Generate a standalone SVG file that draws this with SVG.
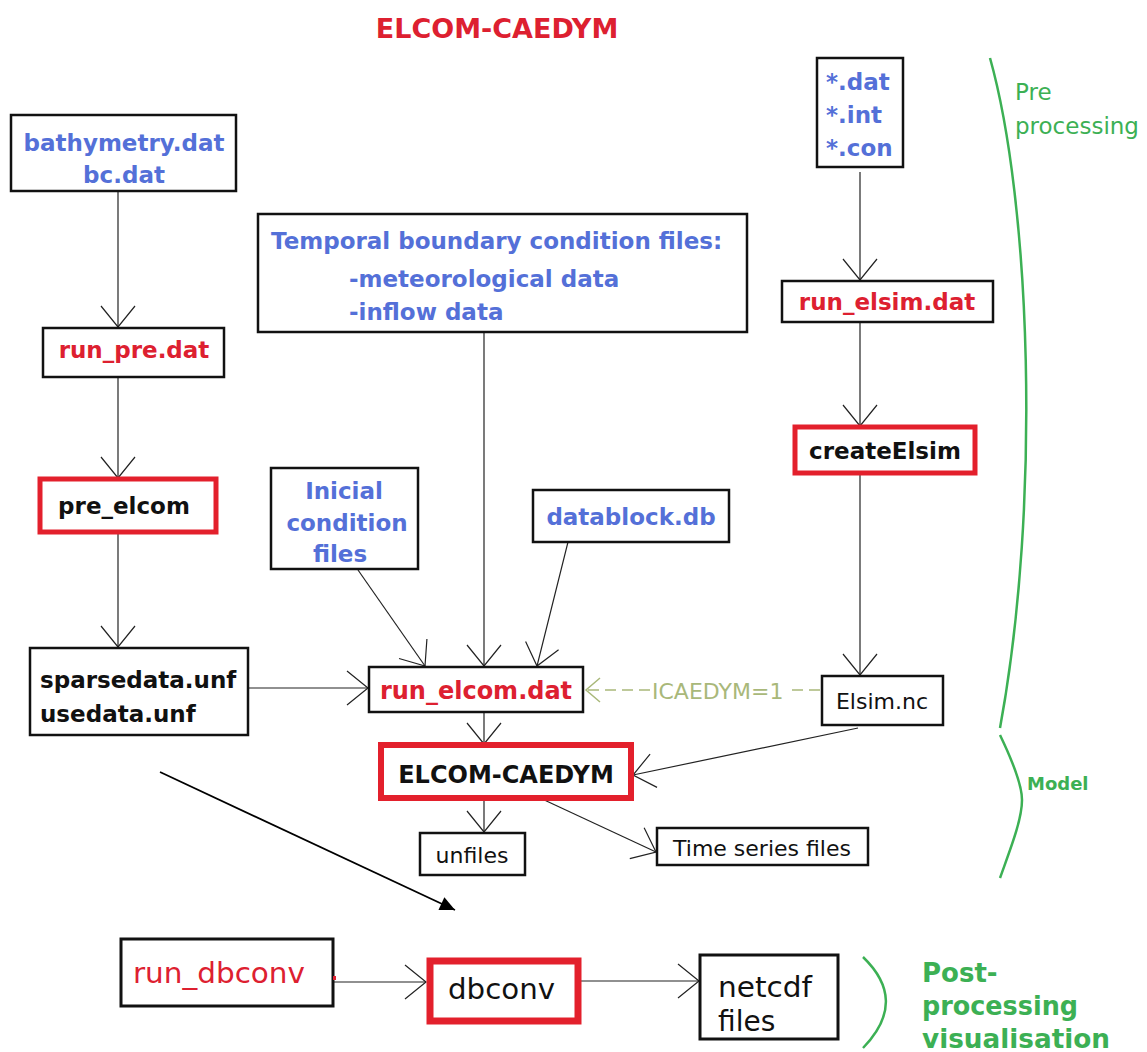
<svg xmlns="http://www.w3.org/2000/svg" width="1147" height="1052" viewBox="0 0 1147 1052">
<style>
.box{fill:#fff;stroke:#111;stroke-width:2.5}
.rbox{fill:#fff;stroke:#e3202c;stroke-width:6}
.b{font-family:"DejaVu Sans",Verdana,sans-serif;font-weight:bold;font-size:23px}
.n{font-family:"DejaVu Sans",Verdana,sans-serif;font-size:22px;fill:#111}
.nr{font-family:"DejaVu Sans",Verdana,sans-serif;font-size:28px}
.blue{fill:#5470d8}
.red{fill:#dd2030}
.blk{fill:#111}
.green{fill:#3cb054}
.mid{text-anchor:middle}
.c{stroke:#222;stroke-width:1.2;fill:none}
.brace{stroke:#3cb054;stroke-width:2.5;fill:none}
</style>
<defs>
<marker id="open" markerUnits="userSpaceOnUse" viewBox="-24 -20 26 40" markerWidth="26" markerHeight="40" refX="0" refY="0" orient="auto">
<path d="M-21,-17 L0,0 L-21,17" fill="none" stroke="#222" stroke-width="1.2"/>
</marker>
<marker id="openG" markerUnits="userSpaceOnUse" viewBox="-24 -20 26 40" markerWidth="26" markerHeight="40" refX="0" refY="0" orient="auto">
<path d="M-14,-12 L0,0 L-14,12" fill="none" stroke="#a9b87a" stroke-width="1.5"/>
</marker>
<marker id="fill" markerUnits="userSpaceOnUse" viewBox="-16 -9 18 18" markerWidth="18" markerHeight="18" refX="0" refY="0" orient="auto">
<path d="M-15,-7 L0,0 L-15,7 Z" fill="#000"/>
</marker>
</defs>

<text x="497" y="38" class="b red mid" style="font-size:27px">ELCOM-CAEDYM</text>

<g id="connectors">
<path class="c" d="M118,191 V327" marker-end="url(#open)"/>
<path class="c" d="M118,377 V478" marker-end="url(#open)"/>
<path class="c" d="M118,532 V647" marker-end="url(#open)"/>
<path class="c" d="M248,688 H368" marker-end="url(#open)"/>
<path class="c" d="M484,332 V666" marker-end="url(#open)"/>
<path class="c" d="M358,570 L425,666" marker-end="url(#open)"/>
<path class="c" d="M568,542 L537,666" marker-end="url(#open)"/>
<path class="c" d="M860,172 V280" marker-end="url(#open)"/>
<path class="c" d="M860,322 V426" marker-end="url(#open)"/>
<path class="c" d="M860,473 V675" marker-end="url(#open)"/>
<path d="M820,690 H586" fill="none" stroke="#a9b87a" stroke-width="1.5" stroke-dasharray="11,6" marker-end="url(#openG)"/>
<rect x="650" y="676" width="136" height="28" fill="#fff"/>
<text x="652" y="699" style="font-family:'DejaVu Sans',sans-serif;font-size:22px;fill:#a9b87a">ICAEDYM=1</text>
<path class="c" d="M858,728 L633,775" marker-end="url(#open)"/>
<path class="c" d="M484,712 V744" marker-end="url(#open)"/>
<path class="c" d="M484,798 V832" marker-end="url(#open)"/>
<path class="c" d="M540,798 L656,852" marker-end="url(#open)"/>
<path d="M160,772 L455,910" stroke="#000" stroke-width="1.8" fill="none" marker-end="url(#fill)"/>
<path class="c" d="M333,982 H426" stroke-width="2" marker-end="url(#open)"/>
<path class="c" d="M580,981 H699" stroke-width="2" marker-end="url(#open)"/>
</g>

<g id="bathymetry">
<rect class="box" x="11" y="115" width="225" height="76"/>
<text class="b blue mid" x="124" y="151">bathymetry.dat</text>
<text class="b blue mid" x="124" y="183">bc.dat</text>
</g>
<g id="star-files">
<rect class="box" x="817" y="58" width="86" height="109"/>
<text class="b blue" x="826" y="90">*.dat</text>
<text class="b blue" x="826" y="123">*.int</text>
<text class="b blue" x="826" y="156">*.con</text>
</g>
<g id="temporal">
<rect class="box" x="258" y="214" width="489" height="118"/>
<text class="b blue" x="271" y="249">Temporal boundary condition files:</text>
<text class="b blue" x="349" y="287">-meteorological data</text>
<text class="b blue" x="349" y="320">-inflow data</text>
</g>
<g id="run_elsim">
<rect class="box" x="782" y="281" width="211" height="41"/>
<text class="b red mid" x="887" y="310">run_elsim.dat</text>
</g>
<g id="createElsim">
<rect class="rbox" x="795" y="427" width="180" height="46" style="stroke-width:5"/>
<text class="b blk mid" x="885" y="459">createElsim</text>
</g>
<g id="run_pre">
<rect class="box" x="43" y="328" width="181" height="49"/>
<text class="b red mid" x="134" y="358">run_pre.dat</text>
</g>
<g id="pre_elcom">
<rect class="rbox" x="40" y="479" width="176" height="53" style="stroke-width:5"/>
<text class="b blk mid" x="124" y="514">pre_elcom</text>
</g>
<g id="inicial">
<rect class="box" x="271" y="468" width="147" height="101"/>
<text class="b blue mid" x="344" y="499">Inicial</text>
<text class="b blue mid" x="347" y="531">condition</text>
<text class="b blue mid" x="340" y="562">files</text>
</g>
<g id="datablock">
<rect class="box" x="533" y="490" width="196" height="52"/>
<text class="b blue mid" x="631" y="525">datablock.db</text>
</g>
<g id="sparsedata">
<rect class="box" x="30" y="648" width="218" height="87"/>
<text class="b blk" x="40" y="688">sparsedata.unf</text>
<text class="b blk" x="40" y="722">usedata.unf</text>
</g>
<g id="run_elcom">
<rect class="box" x="369" y="667" width="214" height="45"/>
<text class="b red mid" x="476" y="699" style="font-size:24px">run_elcom.dat</text>
</g>
<g id="elsim_nc">
<rect class="box" x="822" y="676" width="121" height="49"/>
<text class="n mid" x="882" y="709">Elsim.nc</text>
</g>
<g id="elcom_caedym">
<rect class="rbox" x="381" y="745" width="250" height="53"/>
<text class="b blk mid" x="506" y="783" style="font-size:24px">ELCOM-CAEDYM</text>
</g>
<g id="unfiles">
<rect class="box" x="420" y="833" width="105" height="42"/>
<text class="n mid" x="472" y="863">unfiles</text>
</g>
<g id="timeseries">
<rect class="box" x="657" y="828" width="211" height="37"/>
<text class="n mid" x="762" y="856">Time series files</text>
</g>
<g id="run_dbconv">
<rect class="box" x="121" y="939" width="212" height="67" style="stroke-width:3"/>
<rect x="333" y="976" width="3" height="4" fill="#dd2030"/>
<text class="nr red" x="133" y="983" textLength="172" lengthAdjust="spacingAndGlyphs">run_dbconv</text>
</g>
<g id="dbconv">
<rect class="rbox" x="430" y="961" width="148" height="60" style="stroke-width:7"/>
<text class="nr blk" x="448" y="999" textLength="107" lengthAdjust="spacingAndGlyphs">dbconv</text>
</g>
<g id="netcdf">
<rect class="box" x="700" y="955" width="138" height="84" style="stroke-width:3"/>
<text class="nr blk" x="718" y="997" textLength="94" lengthAdjust="spacingAndGlyphs">netcdf</text>
<text class="nr blk" x="718" y="1031">files</text>
</g>

<g id="phases">
<path class="brace" d="M990,58 C1030,200 1042,500 1000,728"/>
<path class="brace" d="M1000,735 C1012,760 1022,785 1022,800 C1022,820 1010,850 1000,878"/>
<path class="brace" d="M863,957 C892,985 895,1015 863,1048"/>
<text x="1015" y="100" style="font-family:'DejaVu Sans',sans-serif;font-size:23px;fill:#3cb054">Pre</text>
<text x="1015" y="134" style="font-family:'DejaVu Sans',sans-serif;font-size:23px;fill:#3cb054">processing</text>
<text x="1027" y="790" class="green" style="font-family:'DejaVu Sans',sans-serif;font-weight:bold;font-size:18px">Model</text>
<text x="922" y="982" class="green" style="font-family:'DejaVu Sans',sans-serif;font-weight:bold;font-size:26px">Post-</text>
<text x="922" y="1015" class="green" style="font-family:'DejaVu Sans',sans-serif;font-weight:bold;font-size:26px" textLength="156" lengthAdjust="spacingAndGlyphs">processing</text>
<text x="922" y="1048" class="green" style="font-family:'DejaVu Sans',sans-serif;font-weight:bold;font-size:26px" textLength="188" lengthAdjust="spacingAndGlyphs">visualisation</text>
</g>
</svg>
